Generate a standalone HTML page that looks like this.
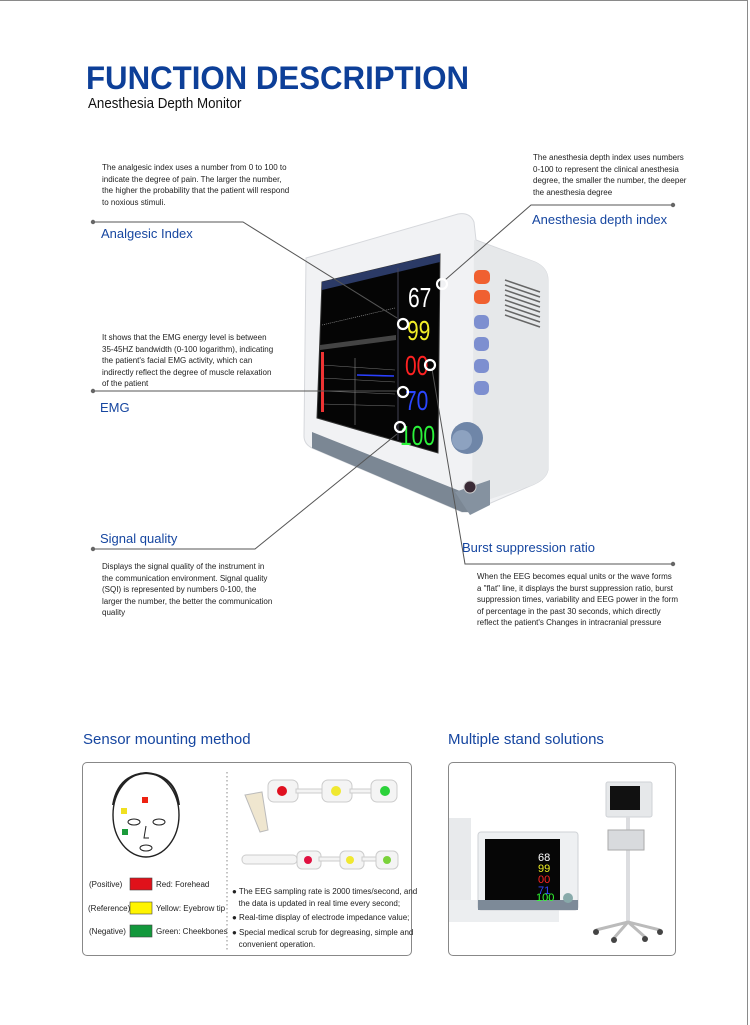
<!DOCTYPE html>
<html><head><meta charset="utf-8">
<style>
html,body{margin:0;padding:0;}
body{width:750px;height:1025px;position:relative;background:#fff;font-family:"Liberation Sans",Arial,sans-serif;overflow:hidden;}
.frame{position:absolute;left:0;top:0;width:748px;height:1025px;border-top:1px solid #8a8a8a;border-right:1px solid #8a8a8a;box-sizing:border-box;}
.abs{position:absolute;}
.title{left:86px;top:60px;font-size:32px;font-weight:bold;color:#0d3f98;transform:scaleX(0.975);transform-origin:left top;white-space:nowrap;}
.sub{left:88px;top:96px;font-size:14.5px;color:#111;transform:scaleX(0.92);transform-origin:left top;white-space:nowrap}
.small{font-size:8px;line-height:11.6px;color:#222;white-space:nowrap}
.lbl{font-size:13px;color:#1646a0;white-space:nowrap}
.h2{font-size:15px;color:#1646a0;white-space:nowrap}
.box{position:absolute;border:1px solid #888;border-radius:5px;box-sizing:border-box}
</style></head><body>
<div class="frame"></div>
<div class="abs title">FUNCTION DESCRIPTION</div>
<div class="abs sub">Anesthesia Depth Monitor</div>

<div class="abs small" style="left:102px;top:162px">The analgesic index uses a number from 0 to 100 to<br>indicate the degree of pain. The larger the number,<br>the higher the probability that the patient will respond<br>to noxious stimuli.</div>
<div class="abs lbl" style="left:101px;top:226px">Analgesic Index</div>

<div class="abs small" style="left:533px;top:152px">The anesthesia depth index uses numbers<br>0-100 to represent the clinical anesthesia<br>degree, the smaller the number, the deeper<br>the anesthesia degree</div>
<div class="abs lbl" style="left:532px;top:212px">Anesthesia depth index</div>

<div class="abs small" style="left:102px;top:332px">It shows that the EMG energy level is between<br>35-45HZ bandwidth (0-100 logarithm), indicating<br>the patient's facial EMG activity, which can<br>indirectly reflect the degree of muscle relaxation<br>of the patient</div>
<div class="abs lbl" style="left:100px;top:400px">EMG</div>

<div class="abs lbl" style="left:100px;top:531px">Signal quality</div>
<div class="abs small" style="left:102px;top:561px">Displays the signal quality of the instrument in<br>the communication environment. Signal quality<br>(SQI) is represented by numbers 0-100, the<br>larger the number, the better the communication<br>quality</div>

<div class="abs lbl" style="left:462px;top:540px">Burst suppression ratio</div>
<div class="abs small" style="left:477px;top:571px">When the EEG becomes equal units or the wave forms<br>a "flat" line, it displays the burst suppression ratio, burst<br>suppression times, variability and EEG power in the form<br>of percentage in the past 30 seconds, which directly<br>reflect the patient's Changes in intracranial pressure</div>

<svg class="abs" style="left:0;top:0" width="750" height="1025" viewBox="0 0 750 1025">
 <path d="M306 258 L458 214 Q470 212 474 222 L476 240 L535 262 Q548 268 548 280 L548 470 Q546 480 530 486 L470 512 L462 512 L312 448 Q304 444 304 436 Z" fill="#f1f2f4" stroke="#d6d8dc"/>
 <path d="M474 240 L535 262 Q548 268 548 280 L548 470 Q546 480 530 486 L472 505 Z" fill="#e6e8ea"/>
 <path d="M312 430 L312 448 L462 512 L470 512 L470 495 L312 432 Z" fill="#7b8794"/>
 <path d="M455 492 L490 480 L490 505 L470 515 Z" fill="#8592a0"/>
 <g stroke="#666" stroke-width="1.5">
  <line x1="505" y1="280" x2="540" y2="292"/><line x1="505" y1="285" x2="540" y2="297"/><line x1="505" y1="290" x2="540" y2="302"/><line x1="505" y1="295" x2="540" y2="307"/><line x1="505" y1="300" x2="540" y2="312"/><line x1="505" y1="305" x2="540" y2="317"/><line x1="505" y1="310" x2="540" y2="322"/><line x1="505" y1="315" x2="540" y2="327"/>
 </g>
 <path d="M322 282 L440 254 L438 453 L317 418 Z" fill="#050505" stroke="#333"/>
 <path d="M322 282 L440 254 L440 262 L322 290 Z" fill="#2b3a66"/>
 <line x1="398" y1="268" x2="398" y2="440" stroke="#445" stroke-width="1"/>
 <path d="M320 345 L396 335 L396 340 L320 350Z" fill="#444"/>
 <line x1="322" y1="325" x2="395" y2="308" stroke="#aaa" stroke-width="0.6" stroke-dasharray="1 1"/>
 <g stroke="#777" stroke-width="0.5"><line x1="322" y1="365" x2="395" y2="370"/><line x1="322" y1="378" x2="395" y2="382"/><line x1="322" y1="391" x2="395" y2="394"/><line x1="322" y1="404" x2="395" y2="406"/></g>
 <line x1="355" y1="358" x2="355" y2="425" stroke="#888" stroke-width="0.6"/>
 <line x1="357" y1="375" x2="394" y2="376" stroke="#2a40ff" stroke-width="1.6"/>
 <g fill="#e33"><rect x="321" y="352" width="3" height="60"/></g>
 <g font-family="Liberation Sans, sans-serif">
  <text x="408" y="307" font-size="28" fill="#fff" transform="scale(0.75 1)" transform-origin="408 307">67</text>
  <text x="407" y="340" font-size="28" fill="#f2ee28" transform="scale(0.75 1)" transform-origin="407 340">99</text>
  <text x="405" y="375" font-size="28" fill="#f22" transform="scale(0.75 1)" transform-origin="405 375">00</text>
  <text x="405" y="410" font-size="28" fill="#2a46ff" transform="scale(0.75 1)" transform-origin="405 410">70</text>
  <text x="400" y="445" font-size="28" fill="#2bf23a" transform="scale(0.75 1)" transform-origin="400 445">100</text>
 </g>
 <rect x="474" y="270" width="16" height="14" rx="5" fill="#f06030"/>
 <rect x="474" y="290" width="16" height="14" rx="5" fill="#f06030"/>
 <rect x="474" y="315" width="15" height="14" rx="5" fill="#7d8fd0"/>
 <rect x="474" y="337" width="15" height="14" rx="5" fill="#7d8fd0"/>
 <rect x="474" y="359" width="15" height="14" rx="5" fill="#7d8fd0"/>
 <rect x="474" y="381" width="15" height="14" rx="5" fill="#7d8fd0"/>
 <circle cx="467" cy="438" r="16" fill="#6f86a8"/>
 <circle cx="462" cy="440" r="10" fill="#8da2c0"/>
 <circle cx="470" cy="487" r="6" fill="#3a2a35" stroke="#ccc"/>

 <g stroke="#555" stroke-width="1" fill="none">
  <polyline points="93,222 243,222 397,318"/>
  <polyline points="673,205 531,205 445,280"/>
  <polyline points="93,391 397,391"/>
  <polyline points="93,549 255,549 397,434"/>
  <polyline points="432,369 465,564 673,564"/>
 </g>
 <g fill="#666"><circle cx="93" cy="222" r="2.2"/><circle cx="673" cy="205" r="2.2"/><circle cx="93" cy="391" r="2.2"/><circle cx="93" cy="549" r="2.2"/><circle cx="673" cy="564" r="2.2"/></g>
 <g fill="none" stroke="#fff" stroke-width="2.2">
  <circle cx="442" cy="284" r="5"/><circle cx="403" cy="324" r="5"/><circle cx="430" cy="365" r="5"/><circle cx="403" cy="392" r="5"/><circle cx="400" cy="427" r="5"/>
 </g>
</svg>

<div class="abs h2" style="left:83px;top:731px">Sensor mounting method</div>
<div class="abs h2" style="left:448px;top:731px">Multiple stand solutions</div>

<div class="box" style="left:82px;top:762px;width:330px;height:194px"></div>
<div class="box" style="left:448px;top:762px;width:228px;height:194px"></div>

<svg class="abs" style="left:0;top:0" width="750" height="1025" viewBox="0 0 750 1025">
 <ellipse cx="146" cy="815" rx="33" ry="42" fill="#fff" stroke="#222" stroke-width="1.4"/>
 <path d="M113 805 Q118 775 146 773 Q175 775 179 805" fill="none" stroke="#222" stroke-width="2"/>
 <ellipse cx="134" cy="822" rx="6" ry="3" fill="none" stroke="#222"/>
 <ellipse cx="159" cy="822" rx="6" ry="3" fill="none" stroke="#222"/>
 <path d="M146 826 L144 838 L149 838" fill="none" stroke="#222"/>
 <ellipse cx="146" cy="848" rx="6" ry="3" fill="none" stroke="#222"/>
 <rect x="142" y="797" width="6" height="6" fill="#e21"/>
 <rect x="121" y="808" width="6" height="6" fill="#f0e020"/>
 <rect x="122" y="829" width="6" height="6" fill="#1b9a3a"/>
 <rect x="130" y="878" width="22" height="12" fill="#e0111a" stroke="#444" stroke-width="0.6"/>
 <rect x="130" y="902" width="22" height="12" fill="#fff400" stroke="#444" stroke-width="0.6"/>
 <rect x="130" y="925" width="22" height="12" fill="#13983c" stroke="#444" stroke-width="0.6"/>
 <line x1="227" y1="772" x2="227" y2="950" stroke="#888" stroke-dasharray="1.5 2.5"/>
 <path d="M245 795 L262 792 L268 830 L260 832 Z" fill="#efe6cf" stroke="#bbb"/>
 <g fill="#f4f4f4" stroke="#ccc">
  <rect x="268" y="780" width="30" height="22" rx="6"/><rect x="296" y="789" width="28" height="4"/>
  <rect x="322" y="780" width="30" height="22" rx="6"/><rect x="350" y="789" width="24" height="4"/>
  <rect x="371" y="780" width="26" height="22" rx="6"/>
  <rect x="242" y="855" width="55" height="9" rx="4"/>
  <rect x="297" y="851" width="24" height="18" rx="5"/><rect x="319" y="857" width="22" height="4"/>
  <rect x="340" y="851" width="24" height="18" rx="5"/><rect x="362" y="857" width="15" height="4"/>
  <rect x="376" y="851" width="22" height="18" rx="5"/>
 </g>
 <circle cx="282" cy="791" r="5" fill="#e01020"/><circle cx="336" cy="791" r="5" fill="#f0e830"/><circle cx="385" cy="791" r="5" fill="#2bd23a"/>
 <circle cx="308" cy="860" r="4" fill="#e01040"/><circle cx="350" cy="860" r="4" fill="#f0e830"/><circle cx="387" cy="860" r="4" fill="#7ad23a"/>
 <rect x="449" y="818" width="22" height="100" fill="#e8eaec"/>
 <rect x="449" y="900" width="110" height="22" fill="#eceef0"/>
 <rect x="478" y="832" width="100" height="78" rx="3" fill="#eef0f2" stroke="#cfd2d6"/>
 <rect x="485" y="839" width="75" height="62" fill="#060606"/>
 <rect x="478" y="900" width="100" height="10" fill="#7d8a98"/>
 <text x="538" y="861" font-size="11" fill="#fff" font-family="Liberation Sans">68</text>
 <text x="538" y="872" font-size="11" fill="#ee2" font-family="Liberation Sans">99</text>
 <text x="538" y="883" font-size="11" fill="#f22" font-family="Liberation Sans">00</text>
 <text x="538" y="894" font-size="11" fill="#34f" font-family="Liberation Sans">71</text>
 <text x="536" y="901" font-size="11" fill="#3f3" font-family="Liberation Sans">100</text>
 <circle cx="568" cy="898" r="5" fill="#8aa"/>
 <rect x="606" y="782" width="46" height="35" rx="2" fill="#e6e8ea" stroke="#cfd2d6"/>
 <rect x="610" y="786" width="30" height="24" fill="#111"/>
 <rect x="626" y="817" width="4" height="105" fill="#dcdde0"/>
 <rect x="608" y="830" width="36" height="20" fill="#d8dadd" stroke="#aaa"/>
 <path d="M596 930 L628 922 L660 930 M628 922 L614 938 M628 922 L645 937" stroke="#bbb" stroke-width="3" fill="none"/>
 <g fill="#444"><circle cx="596" cy="932" r="3"/><circle cx="660" cy="932" r="3"/><circle cx="614" cy="940" r="3"/><circle cx="645" cy="939" r="3"/></g>
</svg>

<div class="abs small" style="left:89px;top:879px;font-size:8px">(Positive)</div>
<div class="abs small" style="left:156px;top:879px;font-size:8px">Red: Forehead</div>
<div class="abs small" style="left:88px;top:903px;font-size:8px">(Reference)</div>
<div class="abs small" style="left:156px;top:903px;font-size:8px">Yellow: Eyebrow tip</div>
<div class="abs small" style="left:89px;top:926px;font-size:8px">(Negative)</div>
<div class="abs small" style="left:156px;top:926px;font-size:8px">Green: Cheekbones</div>

<div class="abs small" style="left:232px;top:886px;font-size:8px">● The EEG sampling rate is 2000 times/second, and<br>&nbsp;&nbsp;&nbsp;the data is updated in real time every second;</div>
<div class="abs small" style="left:232px;top:912px;font-size:8px">● Real-time display of electrode impedance value;</div>
<div class="abs small" style="left:232px;top:927px;font-size:8px">● Special medical scrub for degreasing, simple and<br>&nbsp;&nbsp;&nbsp;convenient operation.</div>
</body></html>
